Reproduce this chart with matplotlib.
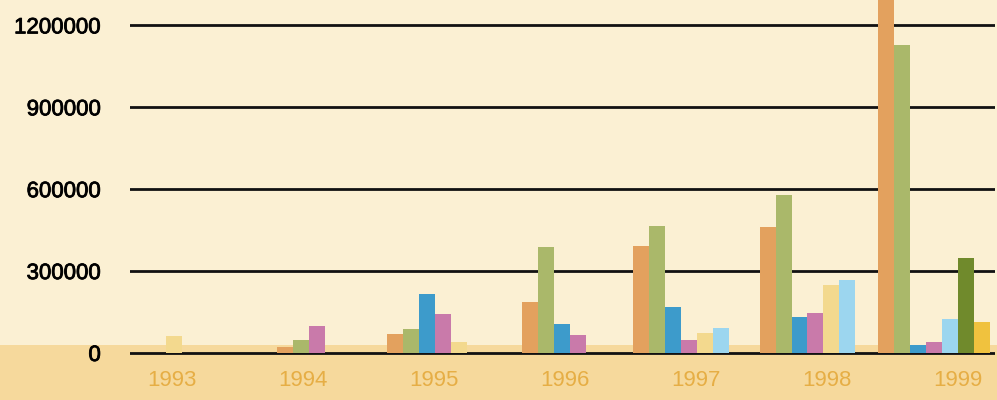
import matplotlib
matplotlib.use("Agg")
import matplotlib.pyplot as plt
from matplotlib.patches import Rectangle
import matplotlib.patheffects as pe
import numpy as np

years = ["1993", "1994", "1995", "1996", "1997", "1998", "1999"]
y_ticks = [0, 300000, 600000, 900000, 1200000]
y_tick_labels = ["0", "300000", "600000", "900000", "1200000"]

orange = [0, 22000, 68000, 185000, 393000, 462000, 1350000]
olive = [0, 47000, 88000, 387000, 466000, 578000, 1129000]
blue = [0, 0, 216000, 107000, 169000, 132000, 29000]
pink = [0, 98000, 142000, 65000, 46000, 146000, 41000]
pale_yellow = [62000, 0, 40000, 0, 73000, 248000, 0]
light_blue = [0, 0, 0, 0, 93000, 268000, 126000]
dark_green = [0, 0, 0, 0, 0, 0, 348000]
gold = [0, 0, 0, 0, 0, 0, 114000]

series = [orange, olive, blue, pink, pale_yellow, light_blue, dark_green, gold]
colors = ["#E3A15E", "#AAB86A", "#3D9BCB", "#C97AAA", "#F3D98E",
          "#9CD6EF", "#708A2C", "#F0C23E"]

BG = "#FBF0D3"
BAND = "#F6D99C"

fig = plt.figure(figsize=(9.97, 4.0), dpi=100, facecolor=BG)
fig.patches.append(Rectangle((0, 0), 1, 55 / 400, transform=fig.transFigure,
                             facecolor=BAND, edgecolor="none", zorder=-5))

ax = fig.add_axes([130 / 997, 0.1, (995 - 130) / 997, 0.9])
ax.set_facecolor("none")
ax.set_zorder(2)

w = 0.126
for i in range(len(years)):
    present = [k for k in range(len(series)) if series[k][i] > 0]
    n = len(present)
    for j, k in enumerate(present):
        x = i + (j - (n - 1) / 2) * w
        ax.bar(x, series[k][i], width=w, color=colors[k], zorder=3,
               linewidth=0)

ax.set_xlim(-0.347, 6.48)
ax.set_ylim(-25650, 1293000)

ax.set_yticks(y_ticks)
ax.set_yticklabels(y_tick_labels, fontsize=16, family="Liberation Sans",
                   color="#000000")
for t in ax.get_yticklabels():
    t.set_path_effects([pe.withStroke(linewidth=0.6, foreground="#000000")])

label_pos = np.arange(len(years)) * 1.034 - 0.016
ax.set_xticks(label_pos)
ax.set_xticklabels(years, fontsize=16, family="Liberation Sans",
                   color="#E6AE45")
ax.tick_params(axis="y", length=0, pad=21)
ax.tick_params(axis="x", length=0, pad=7)

ax.yaxis.grid(True, color="#111111", linewidth=2.0, zorder=1)
ax.xaxis.grid(False)
ax.set_axisbelow(True)
for s in ax.spines.values():
    s.set_visible(False)

fig.savefig("out.png", dpi=100, facecolor=BG)
